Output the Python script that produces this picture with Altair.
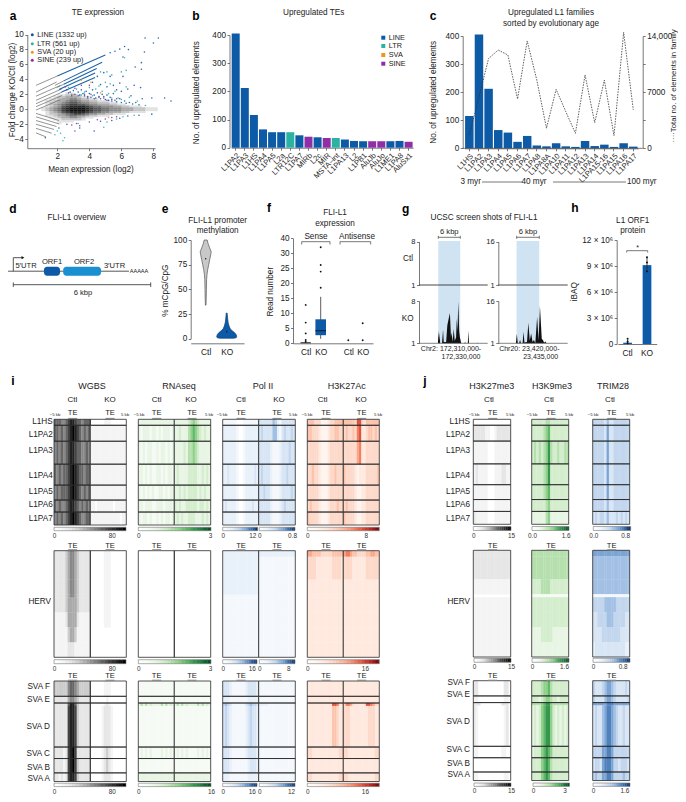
import altair as alt
import pandas as pd

W, H = 670, 786
FONT = "Liberation Sans"
INK = "#222222"
AXC = "#555555"
BLUE, TEAL, ORANGE, PURPLE = "#0d5aa7", "#2ab3a3", "#f0961e", "#8e2fa8"

# ---------- panel a ----------
LINE_X = [2.6,2.8,3.0,3.1,3.3,3.4,3.5,3.6,3.7,3.8,3.9,4.0,4.1,4.2,4.3,4.4,4.5,4.6,4.7,4.8,4.9,5.0,5.1,5.2,5.3,5.4,5.5,5.6,5.7,5.9,6.0,6.2,6.3,6.5,6.7,6.9,7.1,
          4.2,4.5,4.7,4.9,5.1,5.3,5.5,5.7,5.9,6.0,6.1,6.4,6.6,6.8,7.2,7.3,7.9,8.7,9.1,
          7.48,8.31,8.0,7.44,6.44,7.25,7.25,6.86,6.1,5.3,5.6,5.9,6.2,
          1.25,2.6,3.4,4.3,4.7,5.4,5.9,6.4,7.1,7.9,2.1]
LINE_Y = [2.6,2.3,2.5,2.0,2.3,1.9,2.6,2.1,1.8,2.4,1.7,2.1,1.6,2.6,1.9,1.5,2.2,1.7,1.4,2.0,1.5,1.3,1.9,1.2,1.6,1.1,2.1,1.2,1.0,1.4,0.9,1.1,0.8,0.9,0.7,0.9,0.6,
          3.6,4.4,3.3,4.9,3.0,4.4,3.2,2.6,3.5,2.4,4.4,2.7,1.8,3.2,2.9,1.4,1.5,1.5,1.1,
          9.53,9.53,8.87,7.66,7.98,6.24,5.35,5.66,7.0,7.55,7.75,8.05,8.4,
          -3.8,-2.0,-2.5,-2.9,-1.6,-1.5,-1.2,-0.9,-0.8,-0.65,-2.5]
LTR_X = [2.7,2.9,3.2,3.5,3.7,4.0,4.2,4.4,4.6,4.8,5.0,5.2,5.3,5.4,5.6,5.8,6.2,6.3,6.0,6.5,7.0,4.7,5.1,5.4,2.2,2.0,2.35,1.85,2.45,3.3,4.9,5.1,5.7,6.1,6.8,7.5,6.0,6.3]
LTR_Y = [2.9,2.0,2.7,1.9,2.3,2.9,1.8,2.7,3.1,2.4,3.6,2.1,3.4,1.5,2.4,1.5,6.9,3.0,1.3,1.6,1.1,5.0,5.0,4.6,-3.2,-2.9,-4.2,-3.4,-3.8,-1.9,-2.4,-1.7,-1.3,-1.0,-0.8,0.5,5.0,5.2]
SINE_X = [2.5,2.7,2.9,3.1,3.3,3.5,3.7,3.9,4.1,4.3,4.6,4.9,5.1,5.4,5.7,2.9,3.2,3.4,4.0,4.5,5.0,5.4,5.7,3.1,4.0]
SINE_Y = [3.0,2.2,1.8,2.8,1.8,3.2,2.0,1.5,2.0,1.4,1.6,1.7,1.2,1.3,1.4,-2.1,-1.9,-2.2,-1.7,-1.4,-1.3,-1.1,-1.0,-2.9,3.2]
SVA_X = [3.5,4.1,3.0,4.7,5.2]
SVA_Y = [3.9,3.6,1.9,2.2,-1.1]
# gray density of the central cloud: rows from y=2.0 down to y=-2.0 (0.25 steps), cols from x=0.75 (0.25 steps)
CLOUD = [
 "00000001100000000000000000000000",
 "00000112221000000000000000000000",
 "00001223332110000000000000000000",
 "00011233443221100000000000000000",
 "00112334554332211100000000000000",
 "00122345665443322211000000000000",
 "00123456776654433322110000000000",
 "00123467888876554443322111000000",
 "01234578999987665544433322211100",
 "01234578999987665544433322211100",
 "00123467888876554433322111100000",
 "00122345677654433221110000000000",
 "00112334554432211100000000000000",
 "00011233443211000000000000000000",
 "00001122222100000000000000000000",
 "00000111100000000000000000000000",
 "00000100000000000000000000000000",
]
STRIPES_GRAY = [
 (0.67,3.2,2.0,4.45),(1.85,3.2,2.4,3.8),(1.96,2.9,2.4,3.35),
 (0.67,2.3,1.96,3.65),(0.67,1.75,2.2,3.2),(0.67,1.2,2.3,2.75),(0.67,0.75,2.3,2.3),(0.67,0.35,2.3,1.85),(0.67,-0.1,2.2,1.3),
 (0.67,-0.55,2.1,-1.5),(0.67,-1.0,2.1,-1.95),(0.67,-1.5,1.95,-2.3),(0.67,-2.0,1.8,-2.7),(0.67,-2.55,1.65,-3.2),(0.67,-3.15,1.3,-3.7),
]
STRIPES_BLUE = [(2.0,4.45,5.0,7.27),(2.4,3.8,4.8,6.3),(2.4,3.35,4.46,5.44),(2.1,2.65,4.36,4.85),(2.27,2.3,4.36,4.24)]

# ---------- panel b ----------
B_NAMES = ["L1PA2","L1PA3","L1HS","L1PA4","L1PA5","L2a","LTR12C","L1PA7","MIRb","L2c","MIR","MSTA–int","L1PA13","L2","L1PB1","AluJb","AluJo","L1ME1","L1PA8","AluSx1"]
B_VALUES = [405,212,116,65,55,55,55,44,39,37,34.5,34.5,29,24,23,23,23,23,24,21]
B_FAMILY = ["LINE","LINE","LINE","LINE","LINE","LINE","LTR","LINE","SINE","LINE","SINE","LTR","LINE","LINE","LINE","SINE","SINE","LINE","LINE","SINE"]

# ---------- panel c ----------
C_NAMES = ["L1HS","L1PA2","L1PA3","L1PA4","L1PA5","L1PA6","L1PA7","L1PA8","L1PA8A","L1PA10","L1PA11","L1PA12","L1PA13","L1PA14","L1PA15-16","L1PA15","L1PA16","L1PA17"]
C_UP = [115,405,212,65,56,23,44,10,7,18,7,5,26,8,13,5,18,6]
C_TOTAL = [1660,6400,11200,12250,11630,6150,13380,8500,2500,7350,4570,1870,9140,3200,8500,1580,14450,4800]

# ---------- panel e ----------
VIO_CTL_Y = [34,40,50,60,65,70,75,80,85,88,92,96,100]
VIO_CTL_W = [0.3,0.5,0.7,0.9,1.3,2,3,4,5,5.5,4,2.5,1.5]
VIO_KO_Y = [0.5,1,2,4,6,8,10,13,16,20,26]
VIO_KO_W = [7,9.5,10,9.5,8,5.5,3.5,2.3,1.5,1,0.4]

# ---------- panel f ----------
F_OUT_POS = [12.7,12.7,12.7,12.7,12.7,27.7,27.7,27.7,27.7,55.3,69.7,69.7]
F_OUT_VAL = [12.8,6.9,3.3,1.1,0.5,18.5,23.9,26.1,32,1,1,6.7]

# ---------- panel g ----------
G1_KB = [0,5.5,5.7,5.85,6.0,6.15,6.7,7.0,7.2,7.9,8.25,8.6,9.0,9.3,9.5,9.8,10.1,10.4,10.8,11.0,11.2,11.45,11.7,11.9,12.3,13.2,13.4,13.6,14.2,14.4,14.55,17,17.1,17.2,20]
G1_VAL = [1,1,3.1,1.5,2.8,1,1,3.3,1.2,1.2,4.0,5.0,6.0,2,2.8,1.2,3.4,1.4,2,5.1,3,7.9,3,2,1,1,1.2,1,1,3.1,1,1,1.15,1,1]
G2_KB = [0,3.8,4.0,4.2,4.5,4.7,4.9,5.25,5.45,5.65,6.2,6.5,6.8,7.1,7.4,7.7,8.0,8.4,8.7,9.0,9.4,9.66,9.9,10.2,10.4,15]
G2_VAL = [1,1,4.3,1.2,1,2.2,1,1,5.1,1.3,1.5,8.3,2,4.5,1.5,2.2,1,10.4,2,14.2,2.5,2.2,1.2,1.6,1,1]

# ---------- panel h ----------
H_GROUP = ["Ctl","KO"]
H_MEAN = [150000,9100000]
H_LOW = [0,8600000]
H_HIGH = [500000,10000000]
H_PT_GROUP = ["Ctl","Ctl","Ctl","KO","KO","KO"]
H_PT_VAL = [100000,300000,600000,8400000,9400000,10000000]

# ---------- heat maps (digit = intensity 0-9, one string per row block) ----------
GRAYS = ["#ffffff","#f4f4f4","#e6e6e6","#cccccc","#aaaaaa","#888888","#666666","#444444","#222222","#000000"]
GREENS = ["#ffffff","#f5fbf4","#e8f5e4","#d3edcd","#b5e0ae","#8fd08b","#60b968","#36974e","#1b7a3a","#0b4f26"]
BLUES = ["#ffffff","#f4f8fd","#e8f0fa","#d8e5f5","#c2d6ee","#a1c0e3","#7ba4d4","#4f82bd","#2b5c9c","#0d3570"]
REDS = ["#ffffff","#fff4ee","#ffe9df","#fdd9ca","#fcc3ac","#f9a68a","#f27e5f","#e0503a","#b92a22","#7f0d10"]

L1_SIZES = [6,16,23,21,15,12,13]
HERV_SIZES = [6,23,15,3,15,15,15,15]
SVA_SIZES = [16,7,3,43,12,15,9]
HERV_GROUPS = [107]
SVA_GROUPS = [16,7,46,12,15,9]

L1_WGBS_CTL = ["6665567887665666","6656567898765656","5656567887665565","6565667898766566","5656667898765656","6565567887656565","5656567898765566"]
L1_WGBS_KO = ["0000001110000000","1111111111111111","1111111111111111","1111111111111111","1111111111111111","1101111111011111","1111111111111011"]
L1_RNA_CTL = ["2222222222222222","2122212212122212","2121221121221212","2212121122121221","2121212112212122","2212221122212221","2122121121212212"]
L1_RNA_KO = ["2222223454322222","2232224565432322","2222324454322222","2322223333223232","2232323333232322","3232233333233232","2323223332223232"]
L1_POL_CTL = ["1111110001111111","2222221001222222","2222221001222222","2232221001222232","2222221001222222","2322221001222322","2222221001222222"]
L1_POL_KO = ["3333335421333333","3433335521343343","3333321112333433","3433321112334333","3343321112333343","3333321112343333","3333321112333333"]
L1_AC_CTL = ["4443331112334444","4433321112334433","3333321112333333","3343321112334333","3333321112333333","3433321112333433","4333321112333333"]
L1_AC_KO = ["4444437732444444","3433436722344343","3333335622333333","4333321222333334","3333321122333333","3433321122333333","4333321122333333"]
L1_ME3 = ["0000000000000000","2222211001222222","1111110001111111","1211110001112211","1111110001111111","1111110001111111","2111110001111111"]
L1_K9 = ["3333334433333333","3333345633333333","3434345743343344","3333345733333333","3333345633333333","3333334533333333","2222224522222222"]
L1_TRIM = ["4444435334444444","4444436334444444","4444436334444444","4444436334444444","4444436334444444","4444435334444444","3434435333434343"]

HV_WGBS_CTL = ["2222234554322222","2222234554322222","2222234554322222","2222234554322222","2222234444322222","1111124444211111","1111113443111111","1111112221111111"]
HV_WGBS_KO = ["0000001110000000","0000001110000000","0000001110000000","0000001110000000","0000001110000000","0000001110000000","0000000000000000","0000000000000000"]
HV_RNA = ["0000000000000000"]*8
HV_POL_CTL = ["2222222222222222","2222222222222222","2222222222222222","1111111111111111","1111111111111111","1111111111111111","1111111111111111","1111111111111111"]
HV_POL_KO = ["2222222222222222","1111111111111111","1111111111111111","1111111111111111","1111111111111111","1111111111111111","1111111111111111","1111111111111111"]
HV_AC_CTL = ["5544443333344444","3333222222233332","2222222222222222","2222222222222222","2222222222222222","2222222222222222","2222222222222222","2222222222222222"]
HV_AC_KO = ["5665443333445544","3333222222333333","2222222222222222","2222222222222222","2222222222222222","2222222222222222","2222222222222222","2222222222222222"]
HV_ME3 = ["2222222222222222","2222222222222222","1111111111111111","0000000000000000","1111111111111111","1111111111111111","1111111111111111","1111111111111111"]
HV_K9 = ["4444444444444444","4444444444444444","3333444433333333","1111111111111111","3333333333333333","3333333333333333","2222333332222222","2222222222222222"]
HV_TRIM = ["6666666666666666","5555555555555555","5555555555555555","1111111111111111","4444455555444444","3344445554444433","3333444444443333","2333333333333322"]

SV_WGBS_CTL = ["3333335665433333","2222224554322222","2222226886322222","2222227887322222","2222127897222222","2222127897322222","2212127887322222"]
SV_WGBS_KO = ["0000001110000000","0000000100000000","0000001210000000","0000012221000000","0000012321000000","0000012321000000","0000012221000000"]
SV_RNA_CTL = ["1111111111111111","1111111111111111","2424232222424232","1111111111111111","1212121111212121","1111111111111111","2222222222222222"]
SV_RNA_KO = ["1111111111111111","1111111111111111","2424232222424232","1111111111111111","1212121111212121","1111111111111111","2222222222222222"]
SV_POL_CTL = ["3332111111233332","2221111111122222","4543111111345443","3432111111234332","3332111111233332","3332111111123332","2221111111122222"]
SV_POL_KO = ["1111111111111111","1111111111111111","2222111111111111","1111111111111111","1111111111111111","1111111111111111","1111111111111111"]
SV_AC_CTL = ["2222222222222222","2222222222222222","2222222222277622","2222222222244322","3322222222222233","2222222222222222","3322222222222233"]
SV_AC_KO = ["2222222222222222","2222222222222222","3665322222776533","3332222222233322","3322222222222233","2222222222222222","3322222222222233"]
SV_ME3 = ["2200000000000220","1100000000000110","2220000000002220","2100000000000120","1100000000001100","0000000000000000","1100000000000110"]
SV_K9 = ["3333455643333333","3332345543323333","4444567754444444","2323567753232323","2333567653333333","3333567643333333","3333567643333333"]
SV_TRIM = ["4333456654333343","4333356654333334","6666667776666666","3433567765433433","4444667764444444","3443677764434443","4544667764444544"]

layers = []
notes = []
segs = []

def cx(v): return v - 8
def cy(v): return v - 8
def rx(a, b): return [cx(a), cx(b)]
def ry(bottom, top): return [cy(bottom), cy(top)]
def qscale(dom, rng): return alt.Scale(domain=dom, range=rng, nice=False, zero=False)
PX = qscale([8, W + 8], [0, W])
PY = qscale([8, H + 8], [0, H])

AX = dict(title=None, grid=False, domainColor=AXC, tickColor=AXC, domainWidth=0.8, tickWidth=0.8, tickSize=2.5,
          labelFont=FONT, labelFontSize=8.2, labelColor=INK, labelPadding=1.5)
def left(xpos, **kw): return alt.Axis(orient="left", offset=-cx(xpos), **{**AX, **kw})
def right(xpos, **kw): return alt.Axis(orient="right", offset=cx(xpos) - W, **{**AX, **kw})
def bottom(ypos, **kw): return alt.Axis(orient="bottom", offset=cy(ypos) - H, **{**AX, **kw})

def note(t, x, y, size=8.2, align="center", angle=0, weight="normal", color=INK):
    notes.append(dict(t=t, px=x, py=y, size=size, align=align, angle=angle, weight=weight, color=color))
def seg(x1, y1, x2, y2, color=AXC, w=0.8):
    segs.append(dict(x1=x1, y1=y1, x2=x2, y2=y2, color=color, w=w))

# the third heat-map row is squeezed slightly so its colour-bar labels stay on the page
def r3(y): return 681 + (y - 684.3) * (100.5 / 105)

# ===== panel a =====
AX_A = qscale([0.125, 8.1], rx(27.3, 155))
AY_A = qscale([-5.2, 10], ry(148.2, 34.5))
cloud = []
for r, row in enumerate(CLOUD):
    for c, d in enumerate(row):
        if d != "0":
            cloud.append(dict(x=0.75 + 0.25 * c, x2=1.02 + 0.25 * c, y=2.0 - 0.25 * r, y2=2.27 - 0.25 * r, v=int(d)))
layers.append(alt.Chart(pd.DataFrame(cloud)).mark_rect().encode(
    x=alt.X("x:Q", scale=AX_A, axis=bottom(148.2, values=[2, 4, 6, 8])),
    x2="x2:Q",
    y=alt.Y("y:Q", scale=AY_A, axis=left(27.3, values=list(range(-4, 11, 2)))),
    y2="y2:Q",
    color=alt.Color("v:Q", scale=alt.Scale(domain=[0, 9], range=["#ffffff", "#111111"]), legend=None)))
def stripes(rows, color, w):
    d = pd.DataFrame(rows, columns=["x", "y", "x2", "y2"])
    return alt.Chart(d).mark_rule(color=color, strokeWidth=w).encode(
        x=alt.X("x:Q", scale=AX_A, axis=None), x2="x2:Q", y=alt.Y("y:Q", scale=AY_A, axis=None), y2="y2:Q")
layers.append(stripes(STRIPES_GRAY, "#666666", 0.7))
layers.append(stripes(STRIPES_BLUE, "#1b63a8", 1.1))
pts = pd.concat([
    pd.DataFrame(dict(x=LINE_X, y=LINE_Y, fam="LINE")),
    pd.DataFrame(dict(x=LTR_X, y=LTR_Y, fam="LTR")),
    pd.DataFrame(dict(x=SINE_X, y=SINE_Y, fam="SINE")),
    pd.DataFrame(dict(x=SVA_X, y=SVA_Y, fam="SVA")),
])
FAM = alt.Scale(domain=["LINE", "LTR", "SVA", "SINE"], range=[BLUE, TEAL, ORANGE, PURPLE])
layers.append(alt.Chart(pts).mark_circle(size=2.5, opacity=0.9).encode(
    x=alt.X("x:Q", scale=AX_A, axis=None), y=alt.Y("y:Q", scale=AY_A, axis=None),
    color=alt.Color("fam:N", scale=FAM, legend=None)))
# legends of a and b
leg = pd.DataFrame(dict(px=[32.3, 32.3, 32.3, 32.3], py=[34.7, 43.7, 52.3, 60.3], fam=["LINE", "LTR", "SVA", "SINE"]))
layers.append(alt.Chart(leg).mark_circle(size=9, opacity=1).encode(
    x=alt.X("px:Q", scale=PX, axis=None), y=alt.Y("py:Q", scale=PY, axis=None),
    color=alt.Color("fam:N", scale=FAM, legend=None)))
for t, y in zip(["LINE (1332 up)", "LTR  (561 up)", "SVA (20 up)", "SINE (239 up)"], [34.7, 43.7, 52.3, 60.3]):
    note(t, 37.3, y, size=7.3, align="left")
leg2 = pd.DataFrame(dict(px=[383.3] * 4, py=[37.7, 46, 55, 63.7], fam=["LINE", "LTR", "SVA", "SINE"]))
layers.append(alt.Chart(leg2).mark_square(size=16, opacity=1).encode(
    x=alt.X("px:Q", scale=PX, axis=None), y=alt.Y("py:Q", scale=PY, axis=None),
    color=alt.Color("fam:N", scale=FAM, legend=None)))
for t, y in zip(["LINE", "LTR", "SVA", "SINE"], [37.7, 46, 55, 63.7]):
    note(t, 388.7, y, size=7.3, align="left")
note("TE expression", 98, 13)
note("Fold change KO/Ctl (log2)", 12.5, 90, angle=270)
note("Mean expression (log2)", 91, 170)

# ===== panel b =====
dfb = pd.DataFrame(dict(name=B_NAMES, up=B_VALUES, fam=B_FAMILY))
layers.append(alt.Chart(dfb).mark_bar().encode(
    x=alt.X("name:N", sort=B_NAMES,
            scale=alt.Scale(type="band", domain=B_NAMES, range=rx(231.15, 413.15), paddingInner=0.12, paddingOuter=0.06),
            axis=bottom(147.7, labelAngle=-45, labelAlign="right", labelBaseline="top", labelFontSize=7.6, labelPadding=1)),
    y=alt.Y("up:Q", scale=qscale([0, 400], ry(147.7, 35)), axis=left(229.5, values=[0, 100, 200, 300, 400])),
    color=alt.Color("fam:N", scale=FAM, legend=None)))
note("Upregulated TEs", 313.7, 13)
note("No. of upregulated elements", 196.7, 92.7, angle=270)

# ===== panel c =====
dfc = pd.DataFrame(dict(name=C_NAMES, up=C_UP, total=C_TOTAL))
CX = alt.Scale(type="band", domain=C_NAMES, range=rx(464.5, 638.1), paddingInner=0.12, paddingOuter=0.06)
layers.append(alt.Chart(dfc).mark_bar(color=BLUE).encode(
    x=alt.X("name:N", sort=C_NAMES, scale=CX,
            axis=bottom(148.3, labelAngle=-45, labelAlign="right", labelBaseline="top", labelFontSize=7.6, labelPadding=1)),
    y=alt.Y("up:Q", scale=qscale([0, 400], ry(148.3, 36)), axis=left(462.7, values=[0, 100, 200, 300, 400]))))
layers.append(alt.Chart(dfc).mark_line(color="#333333", strokeWidth=0.8, strokeDash=[1.5, 1.2]).encode(
    x=alt.X("name:N", sort=C_NAMES, scale=CX, axis=None),
    y=alt.Y("total:Q", scale=qscale([0, 14000], ry(148.3, 36)),
            axis=right(642.7, values=[0, 3500, 7000, 10500, 14000],
                       labelExpr="datum.value==14000?'14,000':datum.value==7000?'7000':datum.value==0?'0':''"))))
seg(462.7, 148.3, 642.7, 148.3)
note("Upregulated L1 families", 551, 13)
note("sorted by evolutionary age", 551, 23.7)
note("No. of upregulated elements", 434.3, 92.3, angle=270)
note("····Total no. of elements in family", 673.5, 86, size=7.8, angle=270)
note("3 myr", 470.7, 182)
note("40 myr", 534, 182)
note("100 myr", 641.7, 182)
seg(482, 182, 522.7, 182); seg(553, 182, 626, 182)

# ===== panel d =====
DX = qscale([0, 6], rx(13.3, 150.7))
DY = qscale([0, 1], ry(275.7, 266.7))
d_lines = pd.DataFrame(dict(x=[-0.23, 0, 0, 0, 0, 6], x2=[5.05, 0, 0.38, 6, 0, 6], y=[0.5, 0.5, 2, -1, -1.25, -1.25], y2=[0.5, 2, 2, -1, -0.75, -0.75]))
layers.append(alt.Chart(d_lines).mark_rule(color="#444444", strokeWidth=0.9).encode(
    x=alt.X("x:Q", scale=DX, axis=None), x2="x2:Q", y=alt.Y("y:Q", scale=DY, axis=None), y2="y2:Q"))
d_orf = pd.DataFrame(dict(x=[1.34, 2.18], x2=[2.04, 3.83], y=[0, 0], y2=[1, 1], orf=["ORF1", "ORF2"]))
layers.append(alt.Chart(d_orf).mark_rect(cornerRadius=3).encode(
    x=alt.X("x:Q", scale=DX, axis=None), x2="x2:Q", y=alt.Y("y:Q", scale=DY, axis=None), y2="y2:Q",
    color=alt.Color("orf:N", scale=alt.Scale(domain=["ORF1", "ORF2"], range=[BLUE, "#1a8fd1"]), legend=None)))
layers.append(alt.Chart(pd.DataFrame(dict(x=[0.42], y=[2]))).mark_point(shape="triangle-right", size=10, filled=True, color="#111111", opacity=1).encode(
    x=alt.X("x:Q", scale=DX, axis=None), y=alt.Y("y:Q", scale=DY, axis=None)))
note("FLI-L1 overview", 76.7, 218)
note("5′UTR", 26, 266, size=7.6)
note("ORF1", 52, 262, size=7.6)
note("ORF2", 84, 262, size=7.6)
note("3′UTR", 114.5, 266, size=7.6)
note("AAAAA", 139, 270.5, size=5.6)
note("6 kbp", 83, 293, size=7.6)

# ===== panel e =====
EX = qscale([0, 53.3], rx(190.7, 244))
EY = qscale([0, 100], ry(338.7, 240))
def violin(c, ys, ws, fill, stroke):
    d = pd.DataFrame(dict(y=ys, a=[c - w for w in ws], b=[c + w for w in ws]))
    return alt.Chart(d).mark_area(orient="horizontal", color=fill, stroke=stroke, strokeWidth=0.7, opacity=1).encode(
        y=alt.Y("y:Q", scale=EY, axis=None), x=alt.X("a:Q", scale=EX, axis=None), x2="b:Q")
layers.append(violin(15, VIO_CTL_Y, VIO_CTL_W, "#c8c8c8", "#555555"))
layers.append(violin(36, VIO_KO_Y, VIO_KO_W, BLUE, "#0a3f78"))
layers.append(alt.Chart(pd.DataFrame(dict(x=[15, 36], y=[81, 7]))).mark_circle(size=2, color="#111111", opacity=1).encode(
    x=alt.X("x:Q", scale=EX, axis=bottom(343.3, values=[15, 36], tickSize=0, labelFontSize=8.4, labelPadding=4,
                                           labelExpr="datum.value==15?'Ctl':'KO'")),
    y=alt.Y("y:Q", scale=EY, axis=left(190.7, values=[0, 25, 50, 75, 100]))))
note("FLI-L1 promoter", 217.7, 220.7)
note("methylation", 217.7, 231)
note("% mCpG/CpG", 165.7, 290.7, angle=270)

# ===== panel f =====
FX = qscale([0, 80], rx(293, 373))
FY = qscale([0, 35], ry(343.3, 238.3))
layers.append(alt.Chart(pd.DataFrame(dict(x=[27.7], lo=[1.5], hi=[15.5]))).mark_rule(color="#333333", strokeWidth=0.8).encode(
    x=alt.X("x:Q", scale=FX, axis=bottom(343.3, values=[12.7, 27.7, 55.3, 69.7], labelFontSize=8.4, tickSize=0, labelPadding=4,
                                           labelExpr="datum.value<20||(datum.value>50&&datum.value<60)?'Ctl':'KO'")),
    y=alt.Y("lo:Q", scale=FY, axis=left(293, values=[0, 5, 10, 15, 20, 25, 30, 35],
                                          labelExpr="datum.value==35?'40':datum.value")),
    y2="hi:Q"))
f_box = pd.DataFrame(dict(x=[22.4, 7.5], x2=[33, 17.8], lo=[2.7, 0], hi=[8, 0.35], kind=["KO", "Ctl"]))
layers.append(alt.Chart(f_box).mark_rect().encode(
    x=alt.X("x:Q", scale=FX, axis=None), x2="x2:Q",
    y=alt.Y("lo:Q", scale=FY, axis=None), y2="hi:Q",
    color=alt.Color("kind:N", scale=alt.Scale(domain=["KO", "Ctl"], range=[BLUE, "#222222"]), legend=None)))
layers.append(alt.Chart(pd.DataFrame(dict(x=[22.4], x2=[33], y=[4.2]))).mark_rule(color="#111111", strokeWidth=0.9).encode(
    x=alt.X("x:Q", scale=FX, axis=None), x2="x2:Q", y=alt.Y("y:Q", scale=FY, axis=None)))
layers.append(alt.Chart(pd.DataFrame(dict(x=F_OUT_POS, y=F_OUT_VAL))).mark_circle(size=3.5, color="#111111", opacity=1).encode(
    x=alt.X("x:Q", scale=FX, axis=None), y=alt.Y("y:Q", scale=FY, axis=None)))
for a, b in [(301.7, 330), (340, 370.7)]:
    seg(a, 241.7, b, 241.7); seg(a, 241.7, a, 244.5); seg(b, 241.7, b, 244.5)
note("FLI-L1", 335, 213.3); note("expression", 335, 224.3)
note("Sense", 316, 237); note("Antisense", 357, 237)
note("Read number", 271, 291.7, angle=270)

# ===== panel g =====
def gpanel(x0, x1, kb, vals, span, ctl_top, ko_top, shade):
    X = qscale([0, span], rx(x0, x1))
    sd = pd.DataFrame(dict(a=[shade[0]], b=[shade[1]], y=[0], y2=[1]))
    layers.append(alt.Chart(sd).mark_rect(color="#cfe3f3").encode(
        x=alt.X("a:Q", scale=X, axis=None), x2="b:Q",
        y=alt.Y("y:Q", scale=qscale([0, 1], ry(343.6, 241)), axis=None), y2="y2:Q"))
    layers.append(alt.Chart(pd.DataFrame(dict(a=[0], b=[span], y=[1]))).mark_rule(color="#333333", strokeWidth=0.9).encode(
        x=alt.X("a:Q", scale=X, axis=None), x2="b:Q",
        y=alt.Y("y:Q", scale=qscale([1, ctl_top], ry(285, 241.7)),
                axis=left(x0, values=[1, ctl_top], labelFontSize=7.6))))
    dk = pd.DataFrame(dict(kb=kb, v=vals, base=1))
    layers.append(alt.Chart(dk).mark_area(color="#111111", opacity=1).encode(
        x=alt.X("kb:Q", scale=X, axis=None),
        y=alt.Y("v:Q", scale=qscale([1, ko_top], ry(343.3, 301)),
                axis=left(x0, values=[1, ko_top], labelFontSize=7.6)),
        y2="base:Q"))
    seg(x0, 343.3, x1, 343.3, "#666666", 0.8)
gpanel(419, 487.7, G1_KB, G1_VAL, 20, 8, 8, (5.62, 12.0))
gpanel(498.3, 567.7, G2_KB, G2_VAL, 15, 16, 16, (3.95, 8.85))
note("UCSC screen shots of FLI-L1", 484, 218.3)
note("Ctl", 408, 259.3); note("KO", 407.7, 319.3)
for a, b in [(438.3, 460.3), (516.7, 539.3)]:
    seg(a, 237.3, b, 237.3); seg(a, 235.8, a, 238.8); seg(b, 235.8, b, 238.8)
    note("6 kbp", (a + b) / 2, 231.7, size=7.6)
note("Chr2: 172,310,000-", 451, 348.7, size=7); note("172,330,000", 461, 356.7, size=7)
note("Chr20: 23,420,000-", 529.3, 348.7, size=7); note("23,435,000", 540.7, 356.7, size=7)

# ===== panel h =====
HX = alt.Scale(type="band", domain=H_GROUP, range=rx(617.9, 656.7), paddingInner=0.55, paddingOuter=0.275)
HY = qscale([0, 12000000], ry(344, 240))
dh = pd.DataFrame(dict(g=H_GROUP, m=H_MEAN, lo=H_LOW, hi=H_HIGH))
layers.append(alt.Chart(dh).mark_bar(color=BLUE).encode(
    x=alt.X("g:N", sort=H_GROUP, scale=HX, axis=bottom(344, labelFontSize=8.4, tickSize=0, labelPadding=4, labelAngle=0)),
    y=alt.Y("m:Q", scale=HY, axis=left(616.7, values=[0, 3000000, 6000000, 9000000, 12000000],
                                        labelExpr="datum.value==0?'0':(datum.value/1000000)+' × 10⁶'"))))
layers.append(alt.Chart(dh).mark_rule(color="#222222", strokeWidth=0.8).encode(
    x=alt.X("g:N", sort=H_GROUP, scale=HX, axis=None), y=alt.Y("lo:Q", scale=HY, axis=None), y2="hi:Q"))
layers.append(alt.Chart(pd.DataFrame(dict(g=H_PT_GROUP, v=H_PT_VAL))).mark_circle(size=4, color="#111111", opacity=1).encode(
    x=alt.X("g:N", sort=H_GROUP, scale=HX, axis=None), y=alt.Y("v:Q", scale=HY, axis=None)))
seg(626.7, 250.7, 647.7, 250.7); seg(626.7, 250.7, 626.7, 252.5); seg(647.7, 250.7, 647.7, 252.5)
note("*", 637.5, 248, size=7)
note("L1 ORF1", 632.7, 220.7); note("protein", 632.7, 231)
note("iBAQ", 575, 291.7, angle=270)

# ===== heat maps =====
def heat(rows, sizes, groups, palette, x0, x1, y0, y1):
    total = sum(sizes)
    X = qscale([0, 16], rx(x0, x1))
    Y = qscale([0, total], [cy(y0), cy(y1)])
    cum = 0
    cells = []
    for row, s in zip(rows, sizes):
        for c, d in enumerate(row):
            if d != "0":
                cells.append(dict(a=c, b=min(c + 1.12, 16), y=cum, y2=min(cum + s + 0.25, total), v=int(d)))
        cum += s
    if cells:
        layers.append(alt.Chart(pd.DataFrame(cells)).mark_rect().encode(
            x=alt.X("a:Q", scale=X, axis=None), x2="b:Q",
            y=alt.Y("y:Q", scale=Y, axis=None), y2="y2:Q",
            color=alt.Color("v:Q", scale=alt.Scale(domain=list(range(10)), range=palette), legend=None)))
    cum = 0
    box = []
    for g in groups:
        box.append(dict(a=0, b=16, y=cum, y2=cum + g))
        cum += g
    layers.append(alt.Chart(pd.DataFrame(box)).mark_rect(fillOpacity=0, stroke="#2a2a2a", strokeWidth=0.8).encode(
        x=alt.X("a:Q", scale=X, axis=None), x2="b:Q",
        y=alt.Y("y:Q", scale=Y, axis=None), y2="y2:Q"))

def colorbar(palette, x0, x1, y0, y1, vmax, tick, zero="0", label=None):
    X = qscale([0, vmax], rx(x0, x1))
    Y = qscale([0, 1], ry(y1, y0))
    step = vmax / 20
    d = pd.DataFrame([dict(a=i * step, b=(i + 1.1) * step if i < 19 else vmax, y=0, y2=1, v=i * 9 / 19) for i in range(20)])
    label = label if label is not None else str(tick)
    layers.append(alt.Chart(d).mark_rect().encode(
        x=alt.X("a:Q", scale=X, axis=bottom(y1, values=[0, tick], tickSize=0, domain=False, labelFontSize=6.4, labelPadding=1.5, labelColor="#333333",
                                              labelFlush=False, labelOverlap=False,
                                              labelExpr=f"datum.value==0?'{zero}':'{label}'")),
        x2="b:Q",
        y=alt.Y("y:Q", scale=Y, axis=None), y2="y2:Q",
        color=alt.Color("v:Q", scale=alt.Scale(domain=list(range(10)), range=palette), legend=None)))
    layers.append(alt.Chart(pd.DataFrame(dict(a=[0], b=[vmax], y=[0], y2=[1]))).mark_rect(fillOpacity=0, stroke="#777777", strokeWidth=0.6).encode(
        x=alt.X("a:Q", scale=X, axis=None), x2="b:Q", y=alt.Y("y:Q", scale=Y, axis=None), y2="y2:Q"))

I_COLS = [(54, 90.3, 126.3), (138.3, 174.3, 210.7), (222.7, 258.7, 295.3), (307.3, 343.3, 379.3)]
J_COLS = [(473.3, 510.7), (531.7, 568.7), (592.7, 629.7)]
I_ROWS = [(419.3, 525), (550.7, 657.3), (r3(684.3), r3(789.3))]
J_ROWS = [(419.3, 524.3), (550.3, 657), (r3(684), r3(788.3))]
SIZES = [L1_SIZES, HERV_SIZES, SVA_SIZES]
GROUPS = [L1_SIZES, HERV_GROUPS, SVA_GROUPS]
PAL = [GRAYS, GREENS, BLUES, REDS]
I_DATA = [
    [(L1_WGBS_CTL, L1_WGBS_KO), (L1_RNA_CTL, L1_RNA_KO), (L1_POL_CTL, L1_POL_KO), (L1_AC_CTL, L1_AC_KO)],
    [(HV_WGBS_CTL, HV_WGBS_KO), (HV_RNA, HV_RNA), (HV_POL_CTL, HV_POL_KO), (HV_AC_CTL, HV_AC_KO)],
    [(SV_WGBS_CTL, SV_WGBS_KO), (SV_RNA_CTL, SV_RNA_KO), (SV_POL_CTL, SV_POL_KO), (SV_AC_CTL, SV_AC_KO)],
]
J_DATA = [[L1_ME3, L1_K9, L1_TRIM], [HV_ME3, HV_K9, HV_TRIM], [SV_ME3, SV_K9, SV_TRIM]]
J_PAL = [GRAYS, GREENS, BLUES]
for r in range(3):
    y0, y1 = I_ROWS[r]
    for col, (a, b, c) in enumerate(I_COLS):
        ctl, ko = I_DATA[r][col]
        heat(ctl, SIZES[r], GROUPS[r], PAL[col], a, b, y0, y1)
        heat(ko, SIZES[r], GROUPS[r], PAL[col], b, c, y0, y1)
    y0, y1 = J_ROWS[r]
    for col, (a, b) in enumerate(J_COLS):
        heat(J_DATA[r][col], SIZES[r], GROUPS[r], J_PAL[col], a, b, y0, y1)

# colour bars: (palette, x0, x1, scale max, tick)
CB_I = [
    [(GRAYS,54,126,99.8,80),(GREENS,138.3,211,3.04,3),(BLUES,222.7,257.7,14.2,12),(BLUES,259.3,295,0.873,0.8),(REDS,307.3,379.3,9.86,8)],
    [(GRAYS,54,126,99.8,80),(GREENS,138.3,211,3.04,3),(BLUES,222.7,257,18.9,16),(BLUES,259.3,295,9.85,8),(REDS,307.3,379.3,20,16)],
    [(GRAYS,54,126,99.8,80),(GREENS,138.3,211,16,16),(BLUES,222.7,257,18.9,16),(BLUES,259.3,295,13.5,12),(REDS,307.3,379.3,20,16)],
]
CB_J = [
    [(GRAYS,473.3,511,15,15,"0","15"),(GREENS,532,569,1.76,1.6,"0.0","1.6"),(BLUES,593.3,630.7,0.94,0.8,"0.0","0.8")],
    [(GRAYS,474,511,15,15,"0","15"),(GREENS,532,569,1.85,1.6,"0","1.6"),(BLUES,593,630,1.0,0.8,"0","0.8")],
    [(GRAYS,474,511,15,15,"0","15"),(GREENS,533,569.5,3.47,3,"0","3"),(BLUES,593,630,1.89,1.6,"0","1.6")],
]
CB_IY = [(527.3, 530.7), (659.7, 663.7), (783.2, 786.6)]
CB_JY = [(526.5, 530.5), (658.3, 662.3), (783, 786.4)]
for r in range(3):
    for p, a, b, vm, t in CB_I[r]:
        colorbar(p, a, b, CB_IY[r][0], CB_IY[r][1], vm, t)
    for p, a, b, vm, t, z, l in CB_J[r]:
        colorbar(p, a, b, CB_JY[r][0], CB_JY[r][1], vm, t, z, l)

# heat-map annotations
for t, x in zip(["WGBS", "RNAseq", "Pol II", "H3K27Ac"], [92, 179, 263, 346.7]):
    note(t, x, 386, size=9)
for t, x in zip(["H3K27me3", "H3K9me3", "TRIM28"], [491.7, 552, 613]):
    note(t, x, 386, size=9)
for t, x in zip(["Ctl", "KO"] * 4, [72.3, 110, 156.7, 191, 241, 279, 322.7, 361]):
    note(t, x, 400, size=8)
for x in [489, 549, 610]:
    note("Ctl", x, 400, size=8)
TE_X = [72.7, 110, 156.7, 192, 241, 277, 326, 361.7, 492.7, 551, 611.7]
for yt, yb in [(412.5, 418.5), (545.7, 549.8), (676.3, 680.3)]:
    for x in TE_X:
        note("TE", x, yt, size=7.6)
        seg(x - 4.5, yb, x + 4.5, yb, "#888888", 1.2)
for a, b in [(55, 125), (139, 209), (222, 293), (307, 378), (474, 510), (532, 569), (593, 630)]:
    note("−5 kb", a, 415, size=4.3)
    note("5 kb", b, 415, size=4.3)
for t, y in zip(["L1HS", "L1PA2", "L1PA3", "L1PA4", "L1PA5", "L1PA6", "L1PA7"], [422.3, 434.7, 451, 475.7, 491.7, 505, 519]):
    note(t, 52.7, y, size=8.2, align="right")
    note(t, 470, y, size=8.2, align="right")
note("HERV", 51, 601.5, size=8.2, align="right")
note("HERV", 470, 601.5, size=8.2, align="right")
for t, y, yj in zip(["SVA F", "SVA E", "SVA D", "SVA C", "SVA B", "SVA A"], [691, 703.7, 732, 760.7, 775.3, 786.7], [686, 699, 727, 756, 770.7, 782]):
    note(t, 50, r3(y), size=8.2, align="right")
    note(t, 470, r3(yj), size=8.2, align="right")

# panel letters
for t, x, y in [("a",13,16),("b",196,16),("c",433,16),("d",13,209),("e",165,209),("f",269,208),("g",405.7,209),("h",575,208),("i",13,381),("j",425,381)]:
    note(t, x, y, size=12, weight="bold", color="#000000")

# page-level segments
dfs = pd.DataFrame(segs)
for (c, w), g in dfs.groupby(["color", "w"]):
    layers.append(alt.Chart(g.reset_index(drop=True)).mark_rule(color=c, strokeWidth=float(w)).encode(
        x=alt.X("x1:Q", scale=PX, axis=None), x2="x2:Q", y=alt.Y("y1:Q", scale=PY, axis=None), y2="y2:Q"))
# page-level text
dfn = pd.DataFrame(notes)
for (s, al, an, we, co), g in dfn.groupby(["size", "align", "angle", "weight", "color"]):
    layers.append(alt.Chart(g.reset_index(drop=True)).mark_text(
        fontSize=float(s), align=al, angle=float(an), fontWeight=we, color=co, font=FONT, baseline="middle").encode(
        x=alt.X("px:Q", scale=PX, axis=None), y=alt.Y("py:Q", scale=PY, axis=None), text="t:N"))

chart = alt.layer(*layers).resolve_scale(
    x="independent", y="independent", color="independent").properties(
    width=W, height=H, padding=0, autosize=alt.AutoSizeParams(type="none"), background="white"
).configure_view(strokeWidth=0)

chart.save("out.html", embed_options={"renderer": "svg", "actions": False})
